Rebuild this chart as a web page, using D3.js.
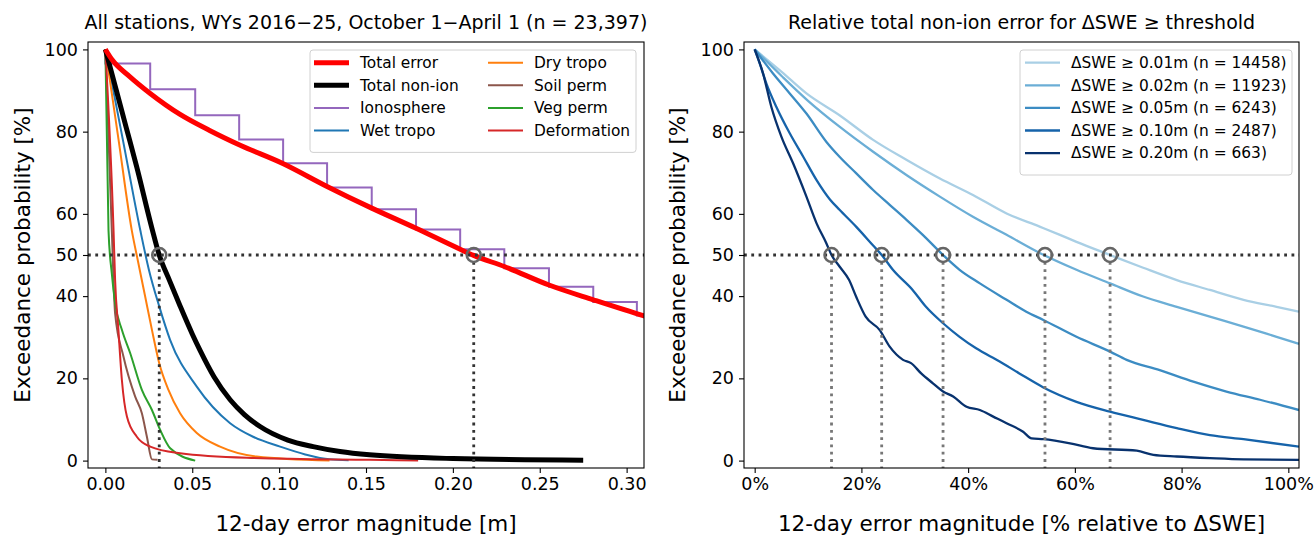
<!DOCTYPE html>
<html>
<head>
<meta charset="utf-8">
<script src="https://cdn.jsdelivr.net/npm/d3@7"></script>
<style>
  body { margin: 0; background: #fff; }
  text { font-family: "DejaVu Sans", sans-serif; }
</style>
</head>
<body>
<script>
var w = 1316;
var h = 538;

// ---- data ----
// left panel: [error magnitude (m), exceedance (%)]
var totalError = [[0,100],[0.004,97.4],[0.014,93.4],[0.0258,89.3],[0.043,84.2],[0.06,80.3],[0.0776,76.7],
  [0.1024,72.2],[0.127,66.8],[0.1533,61.4],[0.1788,56.5],[0.2042,51.4],[0.212,49.9],[0.2296,47.2],
  [0.2553,42.7],[0.2808,39.1],[0.31,35.2],[0.325,33.4]];
var totalNonIon = [[0,100],[0.006,90.5],[0.012,81],[0.018,71.5],[0.0268,56.5],[0.031,50],[0.037,43.7],
  [0.043,37.6],[0.05,30.8],[0.0545,26.8],[0.0625,20.4],[0.0718,14.8],[0.08,11.2],[0.089,8.3],[0.105,5],
  [0.1196,3.4],[0.135,2.2],[0.152,1.4],[0.2,0.5],[0.275,0.1]];
var ionoEdges = [0, 0.0258, 0.0517, 0.077, 0.1023, 0.1276, 0.1533, 0.1788, 0.2042, 0.2296, 0.2553, 0.2808, 0.3059];
var ionoLevels = [96.6, 90.3, 84.0, 78.1, 72.3, 66.4, 61.1, 56.2, 51.4, 46.8, 42.3, 38.6, 35.3];
var wetTropo = [[0,100],[0.0103,77.5],[0.0201,56],[0.025,46.5],[0.031,37.5],[0.0373,29.3],[0.0526,18],
  [0.0718,9.1],[0.085,5.8],[0.1006,3.4],[0.115,1.5],[0.129,0.3],[0.14,0.1]];
var dryTropo = [[0,100],[0.0076,78],[0.0152,56],[0.019,48],[0.0229,39.9],[0.0268,31.8],[0.031,23.7],
  [0.0363,17.2],[0.043,11.5],[0.0526,6.7],[0.066,3.4],[0.087,1],[0.129,0]];
var soilPerm = [[0,100],[0.0037,56],[0.0056,35.8],[0.0104,25.3],[0.0171,15.6],[0.021,11.5],[0.0239,5.8],
  [0.0268,0.3],[0.030,0.2]];
var vegPerm = [[0,100],[0.0018,56],[0.0037,45.5],[0.0056,38.3],[0.0095,31.8],[0.0143,26.1],[0.021,17.2],
  [0.0268,12.3],[0.0315,7.5],[0.0373,3],[0.0517,0]];
var deformation = [[0,100],[0.0047,56],[0.0056,43.9],[0.0075,31.8],[0.0095,19.6],[0.0124,10.7],[0.0181,5.8],
  [0.0258,3.4],[0.043,1.8],[0.0814,0.7],[0.152,0.2],[0.18,0.05]];
var medianLeft = [0.031, 0.212];

// right panel: [error relative to dSWE (%), exceedance (%)]
var swe001 = [[0,100],[5,94.6],[9.7,89.3],[15.9,84],[22.2,78],[28.5,73.1],[34.7,68.6],[40.9,64.6],[47.2,60.1],
  [53.4,56.9],[57.2,54.9],[60.3,53.2],[66.6,50],[72.8,46.9],[79.1,43.9],[85.3,41.5],[91.6,39.1],[97.8,37.4],[102,36.2]];
var swe002 = [[0,100],[5,93.6],[10,87.5],[15.9,81.2],[22.2,75.1],[28.5,69.4],[34.7,64.2],[40.9,59.3],[47.2,54.9],
  [53.4,50.5],[60.3,46.4],[66.6,43.1],[72.8,39.9],[79.1,37.4],[85.3,35],[91.6,32.6],[97.8,30.1],[102,28.4]];
var swe005 = [[0,100],[3.4,94.2],[6.57,89.3],[9.7,84.4],[13.45,77.5],[15.9,73.9],[19,69.9],[22.2,65.8],
  [25.3,62.2],[28.5,58.5],[31.5,54.9],[35.3,50],[38.4,46.4],[42.2,43.1],[47.2,39.1],[50.9,36.2],[54.1,34.2],
  [60.3,30.1],[66.6,26.5],[69.7,24.5],[75.9,22],[82.2,19.2],[88.4,16.8],[94.7,14.8],[102,12.3]];
var swe010 = [[0,100],[0.94,96.6],[2.2,91.7],[4.07,86],[6.57,79.6],[9.1,73.9],[11.6,68.2],[14.1,63.5],
  [15.9,61],[19,56.9],[22.2,52.3],[23.8,50],[25.9,46.4],[29.6,41.5],[32.1,37.4],[35.3,33.4],[38.4,30.1],
  [41.5,27.3],[45.9,24.1],[49.6,21.2],[54.1,17.8],[60.3,14.3],[66.6,11.9],[72.8,9.9],[79.1,7.9],[85.3,6.2],
  [91.6,5.2],[102,3.4]];
var swe020 = [[0,100],[1.56,94.2],[3.13,86],[5,78.8],[7.2,72.3],[9.7,64.2],[11.6,57.7],[13.45,52.8],[14.4,50],
  [15.9,47.2],[17.7,43.9],[19,39.9],[20.8,35],[23.4,31.8],[25.3,27.7],[27.8,24.5],[29.3,23.7],[31.2,21.2],
  [33.4,18.8],[35.3,16.8],[37.2,15.6],[39.7,13.1],[42.2,12.3],[44.7,10.7],[47.2,9.1],[50.3,7],[51.9,5.4],
  [54.1,5.2],[59.1,4.2],[63.4,3],[71.6,2.4],[74.7,1.4],[79.1,1],[85.3,0.6],[91.6,0.3],[102,0.2]];
var sweLabels = ["ΔSWE ≥ 0.01m (n = 14458)", "ΔSWE ≥ 0.02m (n = 11923)", "ΔSWE ≥ 0.05m (n = 6243)",
  "ΔSWE ≥ 0.10m (n = 2487)", "ΔSWE ≥ 0.20m (n = 663)"];
var medianRight = [14.4, 23.8, 35.3, 54.4, 66.6];

var yTicks = [0, 20, 40, 50, 60, 80, 100];
var xTicksLeft = [0, 0.05, 0.10, 0.15, 0.20, 0.25, 0.30];
var xTicksRight = [0, 20, 40, 60, 80, 100];

// ---- drawing ----
var svg = d3.select("body")
            .append("svg")
              .attr("width", w)
              .attr("height", h);

var yTop = 42, yBot = 468;
var y = d3.scaleLinear().domain([-1.8, 101.8]).range([yBot, yTop]);
var xL = d3.scaleLinear().domain([-0.01, 0.31]).range([88, 644]);
var xR = d3.scaleLinear().domain([-2, 102]).range([744, 1299]);

function panel(x, id, xTicks, fmt, title, xlabel, ylabelX) {
  var g = svg.append("g");
  var r = x.range();
  svg.append("clipPath").attr("id", id)
    .append("rect").attr("x", r[0]).attr("y", yTop).attr("width", r[1] - r[0]).attr("height", yBot - yTop);

  var xa = g.append("g").attr("transform", "translate(0," + yBot + ")")
    .call(d3.axisBottom(x).tickValues(xTicks).tickFormat(fmt).tickSize(5).tickPadding(5));
  var ya = g.append("g").attr("transform", "translate(" + r[0] + ",0)")
    .call(d3.axisLeft(y).tickValues(yTicks).tickFormat(d3.format("d")).tickSize(5).tickPadding(5));
  [xa, ya].forEach(function(a) {
    a.select(".domain").remove();
    a.selectAll("line").attr("stroke", "#000").attr("stroke-width", 1.1);
    a.selectAll("text").style("font-size", "17.5px").attr("fill", "#000");
  });

  g.append("text").text(title)
    .attr("x", (r[0] + r[1]) / 2).attr("y", 29)
    .attr("text-anchor", "middle").style("font-size", "19px");
  g.append("text").text(xlabel)
    .attr("x", (r[0] + r[1]) / 2).attr("y", 531)
    .attr("text-anchor", "middle").style("font-size", "21.5px");
  g.append("text").text("Exceedance probability [%]")
    .attr("transform", "translate(" + ylabelX + "," + ((yTop + yBot) / 2) + ") rotate(-90)")
    .attr("text-anchor", "middle").attr("dy", "0.35em").style("font-size", "21.5px");

  var plot = svg.append("g").attr("clip-path", "url(#" + id + ")");
  return plot;
}

function frame(x) {
  var r = x.range();
  svg.append("rect").attr("x", r[0]).attr("y", yTop).attr("width", r[1] - r[0]).attr("height", yBot - yTop)
    .attr("fill", "none").attr("stroke", "#000").attr("stroke-width", 1.1);
}

function medians(plot, x, xs, vcolor) {
  plot.append("line")
    .attr("x1", x.range()[0]).attr("x2", x.range()[1])
    .attr("y1", y(50)).attr("y2", y(50))
    .attr("stroke", "#333").attr("stroke-width", 2.8).attr("stroke-dasharray", "2.8,4.5");
  plot.selectAll(null).data(xs).enter().append("line")
    .attr("x1", function(d) { return x(d); }).attr("x2", function(d) { return x(d); })
    .attr("y1", y(50) + 7).attr("y2", yBot)
    .attr("stroke", vcolor).attr("stroke-width", 2.8).attr("stroke-dasharray", "2.8,4.5");
  plot.selectAll(null).data(xs).enter().append("circle")
    .attr("cx", function(d) { return x(d); }).attr("cy", y(50)).attr("r", 7)
    .attr("fill", "none").attr("stroke", "#666").attr("stroke-width", 2.6);
}

function legend(x0, y0, wd, items, colX) {
  var rows = Math.max.apply(null, items.map(function(d) { return d.row; })) + 1;
  svg.append("rect").attr("x", x0).attr("y", y0).attr("width", wd).attr("height", 12 + rows * 22.6)
    .attr("rx", 3).attr("fill", "#fff").attr("fill-opacity", 0.8).attr("stroke", "#d0d0d0");
  items.forEach(function(d) {
    var lx = x0 + colX[d.col], ly = y0 + 12.7 + d.row * 22.6;
    svg.append("line").attr("x1", lx).attr("x2", lx + 35).attr("y1", ly).attr("y2", ly)
      .attr("stroke", d.color).attr("stroke-width", d.width);
    svg.append("text").text(d.label).attr("x", lx + 46).attr("y", ly).attr("dy", "0.35em")
      .style("font-size", "15.4px");
  });
}

// left panel
var pL = panel(xL, "clipL", xTicksLeft, d3.format(".2f"),
  "All stations, WYs 2016\u221225, October 1\u2212April 1 (n = 23,397)",
  "12-day error magnitude [m]", 22);

var lineL = d3.line().x(function(d) { return xL(d[0]); }).y(function(d) { return y(d[1]); })
  .curve(d3.curveMonotoneX);

var ionoPts = [[0, 100]].concat(ionoEdges.map(function(e, i) { return [e, ionoLevels[i]]; }));
ionoPts.push([0.33, ionoLevels[ionoLevels.length - 1]]);
pL.append("path").datum(ionoPts)
  .attr("d", d3.line().x(function(d) { return xL(d[0]); }).y(function(d) { return y(d[1]); }).curve(d3.curveStepAfter))
  .attr("fill", "none").attr("stroke", "#9467bd").attr("stroke-width", 2);

var thin = [
  { data: wetTropo, color: "#1f77b4" },
  { data: dryTropo, color: "#ff7f0e" },
  { data: soilPerm, color: "#8c564b" },
  { data: vegPerm, color: "#2ca02c" },
  { data: deformation, color: "#d62728" }
];
thin.forEach(function(s) {
  pL.append("path").datum(s.data).attr("d", lineL)
    .attr("fill", "none").attr("stroke", s.color).attr("stroke-width", 2);
});
pL.append("path").datum(totalNonIon).attr("d", lineL)
  .attr("fill", "none").attr("stroke", "#000").attr("stroke-width", 5);
pL.append("path").datum(totalError).attr("d", lineL)
  .attr("fill", "none").attr("stroke", "#ff0000").attr("stroke-width", 5);
medians(pL, xL, medianLeft, "#333");
frame(xL);

legend(310, 50, 326, [
  { label: "Total error", color: "#ff0000", width: 5, col: 0, row: 0 },
  { label: "Total non-ion", color: "#000", width: 5, col: 0, row: 1 },
  { label: "Ionosphere", color: "#9467bd", width: 2, col: 0, row: 2 },
  { label: "Wet tropo", color: "#1f77b4", width: 2, col: 0, row: 3 },
  { label: "Dry tropo", color: "#ff7f0e", width: 2, col: 1, row: 0 },
  { label: "Soil perm", color: "#8c564b", width: 2, col: 1, row: 1 },
  { label: "Veg perm", color: "#2ca02c", width: 2, col: 1, row: 2 },
  { label: "Deformation", color: "#d62728", width: 2, col: 1, row: 3 }
], [4, 178]);

// right panel
var pR = panel(xR, "clipR", xTicksRight, function(d) { return d + "%"; },
  "Relative total non-ion error for \u0394SWE \u2265 threshold",
  "12-day error magnitude [% relative to \u0394SWE]", 677);

var blues = ["#a9cfe5", "#6baed6", "#3c8cc3", "#1663aa", "#08326e"];
var lineR = d3.line().x(function(d) { return xR(d[0]); }).y(function(d) { return y(d[1]); })
  .curve(d3.curveMonotoneX);
[swe001, swe002, swe005, swe010, swe020].forEach(function(s, i) {
  pR.append("path").datum(s).attr("d", lineR)
    .attr("fill", "none").attr("stroke", blues[i]).attr("stroke-width", 2.3);
});
medians(pR, xR, medianRight, "#777");
frame(xR);

legend(1020, 50, 272, sweLabels.map(function(l, i) {
  return { label: l, color: blues[i], width: 2.3, col: 0, row: i };
}), [5]);
</script>
</body>
</html>
